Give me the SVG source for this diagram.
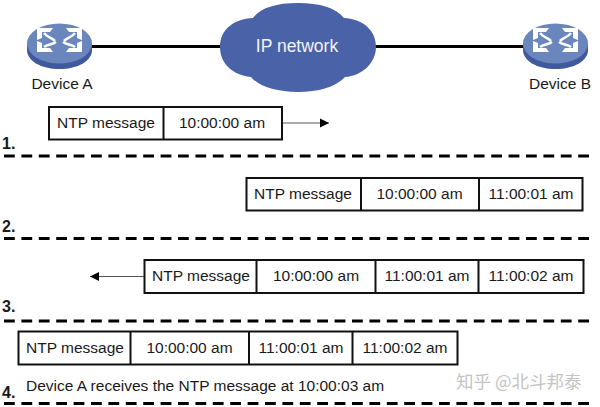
<svg xmlns="http://www.w3.org/2000/svg" width="600" height="407" viewBox="0 0 600 407">
<style>
text{font-family:"Liberation Sans",Arial,sans-serif;font-size:15.5px;fill:#1a1a1a}
.c{text-anchor:middle}
.box{fill:#fff;stroke:#111;stroke-width:2}
.sep{stroke:#111;stroke-width:2}
.link{stroke:#000;stroke-width:3;fill:none}
.dash{stroke:#000;stroke-width:3;stroke-dasharray:10.8 6.6;fill:none}
.arrow{stroke:#555;stroke-width:1.2;fill:none}
.num{font-weight:bold;font-size:16px}
</style>
<defs>
<marker id="ah" markerUnits="userSpaceOnUse" markerWidth="10" markerHeight="10" refX="9" refY="5" orient="auto"><path d="M0 0.500L9 5L0 9.500Z" fill="#000"/></marker>
<g id="router">
<path d="M27 44V50C27 61 41 69 59.500 69C78 69 92 61 92 50V44Z" fill="#3f5a9c"/>
<ellipse cx="59.500" cy="43.500" rx="32.500" ry="20" fill="#6b85bd"/>
<g fill="#fff">
<path d="M37 28H53L50 32H42V38L37 40Z"/>
<path d="M82 28H66L69 32H77V38L82 40Z"/>
<path d="M37 52H53L50 48H42V43L37 41Z"/>
<path d="M82 52H66L69 48H77V43L82 41Z"/>
</g>
<g fill="none" stroke="#fff" stroke-width="2.600">
<path d="M44 33C48 38 51 37 55 41"/>
<path d="M75 33C71 38 68 37 64 41"/>
<path d="M44 47C48 44 52 45 56 42"/>
<path d="M75 47C71 44 67 45 63 42"/>
</g>
</g>
</defs>
<g id="connectors">
<path class="link" d="M91 46.500H222"/>
<path class="link" d="M375 46.500H524"/>
<path class="arrow" d="M282 123H329" marker-end="url(#ah)"/>
<path class="arrow" d="M144 276.500H90" marker-end="url(#ah)"/>
<path class="dash" d="M4 156H592"/>
<path class="dash" d="M4 238.500H592"/>
<path class="dash" d="M4 321H592"/>
<path class="dash" d="M4 403.500H592"/>
</g>
<g id="device-a"><use href="#router"/><text class="c" x="62" y="89">Device A</text></g>
<g id="device-b"><use href="#router" x="496"/><text class="c" x="560" y="89">Device B</text></g>
<g id="ip-network">
<path d="M220 47C220 29 234 19 253 18C260 8 276 3 298 3C320 3 336 8 344 18C364 19 376 31 376 47C376 63 362 76 345 77C336 87 318 92 298 92C276 92 258 86 251 77C232 75 220 63 220 47Z" fill="#4a63a8"/>
<text class="c" x="297" y="52" style="fill:#f2f4fa;font-size:17.500px">IP network</text>
</g>
<g id="message-1">
<rect class="box" x="49" y="107" width="233" height="32.500"/>
<path class="sep" d="M163.500 107V139.500"/>
<text class="c" x="106" y="128">NTP message</text>
<text class="c" x="222" y="128">10:00:00 am</text>
<text class="num" x="2" y="149">1.</text>
</g>
<g id="message-2">
<rect class="box" x="246.500" y="178" width="336" height="32.500"/>
<path class="sep" d="M361 178V210.500M479 178V210.500"/>
<text class="c" x="303" y="199">NTP message</text>
<text class="c" x="419.500" y="199">10:00:00 am</text>
<text class="c" x="531" y="199">11:00:01 am</text>
<text class="num" x="2" y="232">2.</text>
</g>
<g id="message-3">
<rect class="box" x="144.500" y="260" width="439" height="33"/>
<path class="sep" d="M256.500 260V293M375.500 260V293M478.500 260V293"/>
<text class="c" x="201" y="281">NTP message</text>
<text class="c" x="316" y="281">10:00:00 am</text>
<text class="c" x="427" y="281">11:00:01 am</text>
<text class="c" x="531" y="281">11:00:02 am</text>
<text class="num" x="2" y="312">3.</text>
</g>
<g id="message-4">
<rect class="box" x="18.500" y="331.500" width="439" height="33"/>
<path class="sep" d="M130.500 331.500V364.500M249 331.500V364.500M352.500 331.500V364.500"/>
<text class="c" x="75" y="353">NTP message</text>
<text class="c" x="189.500" y="353">10:00:00 am</text>
<text class="c" x="301" y="353">11:00:01 am</text>
<text class="c" x="405" y="353">11:00:02 am</text>
<text x="26" y="391">Device A receives the NTP message at 10:00:03 am</text>
<text class="num" x="2" y="398">4.</text>
</g>
<text x="456" y="388" style="font-family:'Noto Sans CJK SC','Liberation Sans',sans-serif;font-size:17.500px;fill:#c4c4c4">知乎 @北斗邦泰</text>
</svg>
